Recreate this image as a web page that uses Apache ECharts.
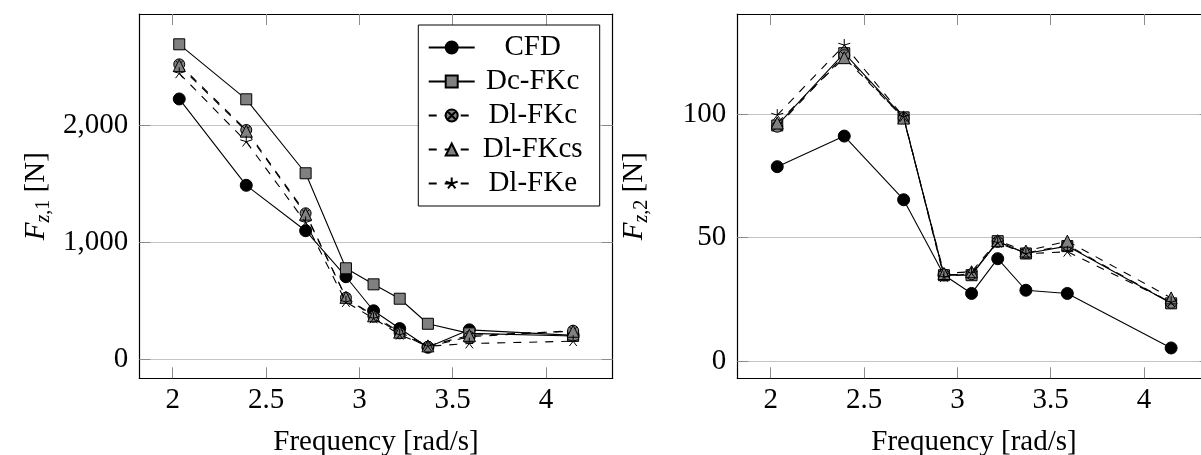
<!DOCTYPE html>
<html>
<head>
<meta charset="utf-8">
<script src="https://cdn.jsdelivr.net/npm/echarts@6/dist/echarts.min.js"></script>
<style>
html,body{margin:0;padding:0;background:#fff;}
#c{width:1201px;height:455px;}
</style>
</head>
<body>
<div id="c"></div>
<script>
// ---- data ----
const freq = [2.035, 2.394, 2.712, 2.928, 3.076, 3.216, 3.367, 3.589, 4.145];
const seriesNames = ['CFD', 'Dc-FKc', 'Dl-FKc', 'Dl-FKcs', 'Dl-FKe'];
// Fz,1 [N]
const cfd1  = [2225, 1487, 1099, 706, 415, 263, 103, 252, 205];
const dc1   = [2692, 2222, 1590, 778, 641, 518, 304, 222, 200];
const dlc1  = [2521, 1960, 1248, 527, 364, 222, 108, 193, 245];
const dlcs1 = [2510, 1950, 1240, 530, 372, 232, 115, 205, 240];
const dle1  = [2444, 1860, 1170, 490, 350, 210, 112, 135, 155];
// Fz,2 [N]
const cfd2  = [78.8, 91.2, 65.4, 34.9, 27.4, 41.5, 28.7, 27.4, 5.3];
const dc2   = [95.5, 124.8, 98.8, 34.8, 34.8, 48.6, 43.6, 46.6, 23.4];
const dlc2  = [95.0, 124.0, 98.5, 35.0, 35.2, 48.3, 43.8, 47.0, 23.6];
const dlcs2 = [96.5, 123.0, 98.5, 35.5, 36.2, 48.8, 44.6, 48.6, 25.6];
const dle2  = [99.7, 128.1, 99.0, 34.0, 35.6, 48.0, 43.5, 44.3, 23.8];
const xTicks = [2, 2.5, 3, 3.5, 4];
const y1Ticks = [0, 1000, 2000];
const y2Ticks = [0, 50, 100];
const xTitle = 'Frequency [rad/s]';

// ---- styles ----
const FONT = 'Liberation Serif';
const GREY = '#808080';
const TICK = '#8c8c8c';
const GRID = '#c4c4c4';
const FS = 29;

function fmt(v){ return String(v).replace(/\B(?=(\d{3})+(?!\d))/g, ','); }
function pairs(ys){ return freq.map((x,i)=>[x, ys[i]]); }

const oplus = 'path://M0,-10 A10,10 0 1,1 0,10 A10,10 0 1,1 0,-10 Z M-7.07,-7.07 L7.07,7.07 M7.07,-7.07 L-7.07,7.07';
const star = 'path://M0,0 L0,-10 M0,0 L9.51,-3.09 M0,0 L5.88,8.09 M0,0 L-5.88,8.09 M0,0 L-9.51,-3.09 M0,10 L0,10';

const styles = [
  {symbol:'circle', size:12, fill:'#000', dash:'solid'},
  {symbol:'rect', size:11, fill:GREY, dash:'solid'},
  {symbol:oplus, size:11, fill:GREY, dash:[8,8]},
  {symbol:'triangle', size:12, fill:GREY, dash:[8,8]},
  {symbol:star, size:12, fill:'#000', dash:[8,8]}
];

function mkSeries(name, idx, ys, g){
  const s = styles[idx];
  return {
    type:'line', name:name, xAxisIndex:g*2, yAxisIndex:g*2,
    data:pairs(ys), symbol:s.symbol, symbolSize:s.size,
    lineStyle:{color:'#000', width:1.1, type:s.dash},
    itemStyle:{color:s.fill, borderColor:'#000', borderWidth:1},
    emphasis:{disabled:true}, silent:true, z:2+idx
  };
}

const gridW = 473.4, gridH = 364.3;
const grids = [
  {left:139.3, top:14, width:gridW, height:gridH, outerBoundsMode:'none', containLabel:false},
  {left:737.3, top:14, width:gridW, height:gridH, outerBoundsMode:'none', containLabel:false}
];

function xAxes(g){
  const base = {type:'value', gridIndex:g, min:1.821, max:4.357};
  return [
    Object.assign({}, base, {
      position:'bottom',
      axisLine:{show:true, onZero:false, lineStyle:{color:'#000', width:1.2}},
      axisTick:{show:true, inside:true, length:11, customValues:xTicks, lineStyle:{color:TICK, width:1}},
      axisLabel:{show:true, customValues:xTicks, margin:8, fontFamily:FONT, fontSize:FS, color:'#000'},
      splitLine:{show:false},
      name:xTitle, nameLocation:'middle', nameGap:50,
      nameTextStyle:{fontFamily:FONT, fontSize:FS, color:'#000'}
    }),
    Object.assign({}, base, {
      position:'top',
      axisLine:{show:true, onZero:false, lineStyle:{color:'#000', width:1.2}},
      axisTick:{show:true, inside:true, length:11, customValues:xTicks, lineStyle:{color:TICK, width:1}},
      axisLabel:{show:false},
      splitLine:{show:false}
    })
  ];
}
function yAxes(g, mn, mx, ticks, sub){
  const base = {type:'value', gridIndex:g, min:mn, max:mx};
  return [
    Object.assign({}, base, {
      position:'left',
      axisLine:{show:true, onZero:false, lineStyle:{color:'#000', width:1.2}},
      axisTick:{show:true, inside:true, length:11, customValues:ticks, lineStyle:{color:TICK, width:1}},
      axisLabel:{show:true, customValues:ticks, margin:11, fontFamily:FONT, fontSize:FS, color:'#000', formatter:v=>fmt(v)},
      splitLine:{show:true, lineStyle:{color:GRID, width:1}},
      name:'{f|F}{sz|z}{s1|,' + sub + '}{t| [N]}', nameLocation:'middle', nameGap:88, nameRotate:90,
      nameTextStyle:{
        fontFamily:FONT, fontSize:FS, color:'#000',
        rich:{
          f:{fontFamily:FONT, fontSize:FS, fontStyle:'italic', lineHeight:30, color:'#000'},
          sz:{fontFamily:FONT, fontSize:20, fontStyle:'italic', lineHeight:20, padding:[14,0,0,0], color:'#000'},
          s1:{fontFamily:FONT, fontSize:20, lineHeight:20, padding:[14,0,0,0], color:'#000'},
          t:{fontFamily:FONT, fontSize:FS, lineHeight:30, color:'#000'}
        }
      }
    }),
    Object.assign({}, base, {
      position:'right',
      axisLine:{show:true, onZero:false, lineStyle:{color:'#000', width:1.2}},
      axisTick:{show:true, inside:true, length:11, customValues:ticks, lineStyle:{color:TICK, width:1}},
      axisLabel:{show:false},
      splitLine:{show:false}
    })
  ];
}

const data1 = [cfd1, dc1, dlc1, dlcs1, dle1];
const data2 = [cfd2, dc2, dlc2, dlcs2, dle2];
const series = [];
seriesNames.forEach((n,i)=>series.push(mkSeries(n, i, data1[i], 0)));
seriesNames.forEach((n,i)=>{ const s = mkSeries(n, i, data2[i], 1); s.name = n + ' '; series.push(s); });

const option = {
  animation:false,
  backgroundColor:'#fff',
  textStyle:{fontFamily:FONT},
  grid:grids,
  xAxis:[].concat(xAxes(0), xAxes(1)),
  yAxis:[].concat(yAxes(0, -162, 2951, y1Ticks, '1'), yAxes(1, -7.0, 140.7, y2Ticks, '2')),
  legend:{
    data:seriesNames, orient:'vertical', left:418.3, top:25,
    padding:[8,14,8,9.4], itemGap:5, itemWidth:46, itemHeight:15, itemTextGap:5,
    backgroundColor:'#fff', borderColor:'#000', borderWidth:1, selectedMode:false,
    formatter:'{t|{name}}',
    textStyle:{fontFamily:FONT, fontSize:FS, color:'#000',
      rich:{t:{fontFamily:FONT, fontSize:FS, width:106, align:'center', lineHeight:30, color:'#000'}}}
  },
  series:series
};
const chart = echarts.init(document.getElementById('c'), null, {renderer:'canvas'});
chart.setOption(option);
</script>
</body>
</html>
